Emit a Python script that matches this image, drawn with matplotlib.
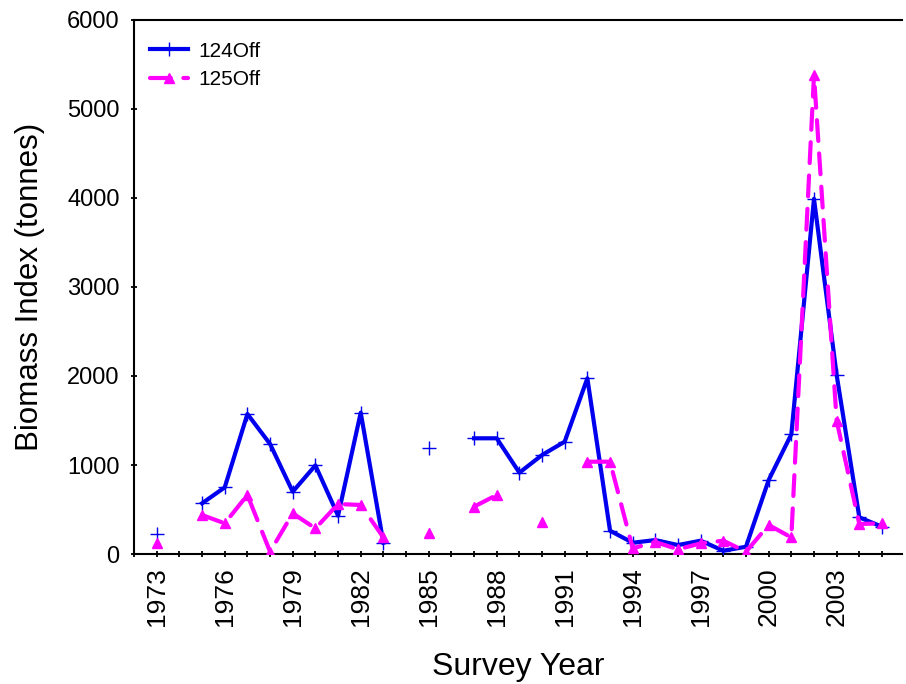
import numpy as np
import matplotlib.pyplot as plt

plt.rcParams['font.family'] = ['Liberation Sans', 'DejaVu Sans']

# survey years and biomass index (tonnes); nan = no survey value
years = np.arange(1973, 2006)
off124 = [225, np.nan, 570, 749, 1573, 1236, 700, 996, 431, 1588, 127,
          np.nan, 1187, np.nan, 1300, 1300, 914, 1112, 1262, 1974, 262,
          127, 157, 101, 150, 37, 82, 831, 1345, 3990, 2011, 412, 307]
off125 = [127, np.nan, 438, 345, 663, 26, 457, 288, 562, 551, 187,
          np.nan, 232, np.nan, 532, 663, np.nan, 363, np.nan, 1037, 1037,
          64, 135, 53, 120, 150, 26, 326, 187, 5380, 1498, 337, 345]

labelYears = np.arange(1973, 2006, 3)


def makePlot():
    fig = plt.figure(figsize=(9.06, 6.84), dpi=100)
    ax = fig.add_axes([0.148, 0.19, 0.848, 0.781])

    ax.plot(years, off124, color="#0000ee", lw=3, ls="-", marker="+",
            ms=10, mew=1.0, label="124Off", zorder=3)
    ax.plot(years, off125, color="#ff00ff", lw=3, ls=(0, (5.0, 3.0)),
            dash_capstyle="round", marker="^", ms=7.5, label="125Off",
            zorder=4)

    ax.set_xlim(1972, 2005.9)
    ax.set_ylim(0, 6000)
    ax.set_yticks(np.arange(0, 6001, 1000))
    ax.set_xticks(labelYears)
    ax.set_xticks(np.arange(1972, 2006), minor=True)
    ax.set_xticklabels([str(y) for y in labelYears], rotation=90)

    ax.tick_params(axis="both", which="both", direction="inout", length=5,
                   width=1.3)
    ax.tick_params(axis="y", labelsize=17, pad=8)
    ax.tick_params(axis="x", labelsize=19, pad=7)
    for s in ["left", "bottom", "top"]:
        ax.spines[s].set_linewidth(1.5)
    ax.spines["right"].set_visible(False)

    ax.set_xlabel("Survey Year", fontsize=23, labelpad=19)
    ax.set_ylabel("Biomass Index (tonnes)", fontsize=22.5, labelpad=16)

    ax.legend(loc="upper left", bbox_to_anchor=(0.01, 0.975), frameon=False,
              fontsize=15, handlelength=1.8, handletextpad=0.5,
              borderaxespad=0, labelspacing=0.45)

    fig.savefig("out.png", dpi=100)


makePlot()
